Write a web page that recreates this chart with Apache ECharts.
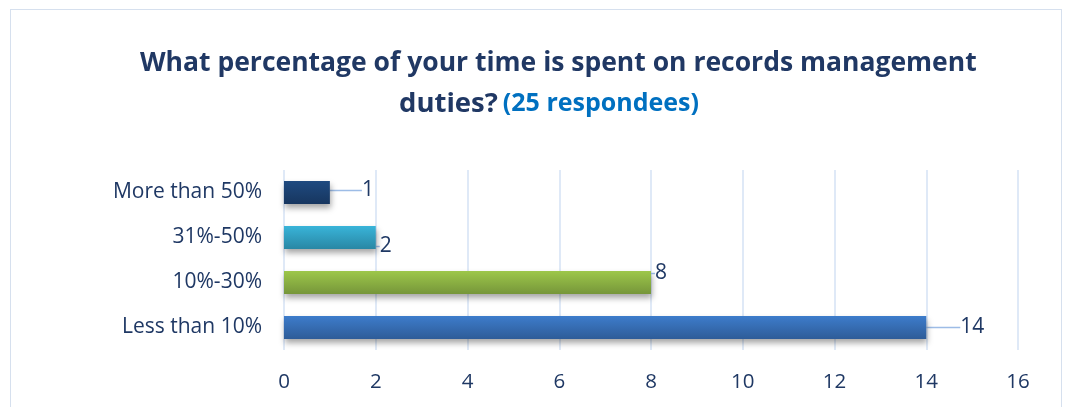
<!DOCTYPE html>
<html><head><meta charset="utf-8">
<script src="https://cdn.jsdelivr.net/npm/echarts@6/dist/echarts.min.js"></script>
<style>html,body{margin:0;padding:0;background:#fff}#c{width:1066px;height:407px}
#frame{position:absolute;left:10px;top:9px;width:1052px;height:410px;border:1.5px solid #D6E0EE;box-sizing:border-box;pointer-events:none}</style>
</head><body><div id="c"></div><div id="frame"></div>
<script>
const categories = ['Less than 10%', '10%-30%', '31%-50%', 'More than 50%'];
const values = [14, 8, 2, 1];
const xTicks = [0, 2, 4, 6, 8, 10, 12, 14, 16];
const colors = [['#3D7CCB', '#2E5C98'], ['#9DC74A', '#76963A'], ['#39B4D9', '#2987A4'], ['#1F4A80', '#17365F']];

const chart = echarts.init(document.getElementById('c'));
const txt = '#1F3864';
const fam = 'Open Sans';
chart.setOption({
  animation: false,
  title: [{
    left: 135, top: 45,
    text: 'What percentage of your time is spent on records management',
    textStyle: { fontFamily: fam, fontWeight: 'bold', fontSize: 26.5, color: '#203864' }
  }, {
    left: 394, top: 85,
    text: '{a|duties?} {b|(25 respondees)}',
    textStyle: {
      rich: {
        a: { fontFamily: fam, fontWeight: 'bold', fontSize: 27.5, color: '#203864' },
        b: { fontFamily: fam, fontWeight: 'bold', fontSize: 25, color: '#0070C0' }
      }
    }
  }],
  grid: { left: 284, right: 48, top: 170, bottom: 57, containLabel: false },
  xAxis: {
    type: 'value', min: 0, max: 16, interval: 2,
    axisLine: { show: false }, axisTick: { show: false },
    splitLine: { lineStyle: { color: '#D5E2F4', width: 1.5 } },
    axisLabel: { color: txt, fontFamily: fam, fontSize: 20.5, margin: 22,
      formatter: v => xTicks.includes(v) ? String(v) : '' }
  },
  yAxis: {
    type: 'category', data: categories,
    axisLine: { show: false }, axisTick: { show: false },
    axisLabel: { color: txt, fontFamily: fam, fontSize: 21, margin: 22 }
  },
  series: [{
    type: 'bar', barWidth: '51%',
    data: values.map((v, i) => ({
      value: v,
      itemStyle: {
        color: new echarts.graphic.LinearGradient(0, 0, 0, 1, [
          { offset: 0, color: colors[i][0] }, { offset: 1, color: colors[i][1] }])
      }
    })),
    itemStyle: { shadowColor: 'rgba(0,0,0,0.35)', shadowBlur: 6, shadowOffsetY: 4, shadowOffsetX: 1 },
    label: { show: true, position: 'right', distance: 4, color: txt, fontFamily: fam, fontSize: 21 },
    labelLine: { show: true, lineStyle: { color: '#9DBCE6', width: 1.5 } },
    labelLayout: function (p) {
      const i = p.dataIndex;
      if (i === 0) return { dx: 30, dy: 0 };
      if (i === 1) return { dx: 0, dy: -9 };
      if (i === 2) return { dx: 0, dy: 9 };
      return { dx: 28, dy: -2 };
    }
  }]
});
</script></body></html>
